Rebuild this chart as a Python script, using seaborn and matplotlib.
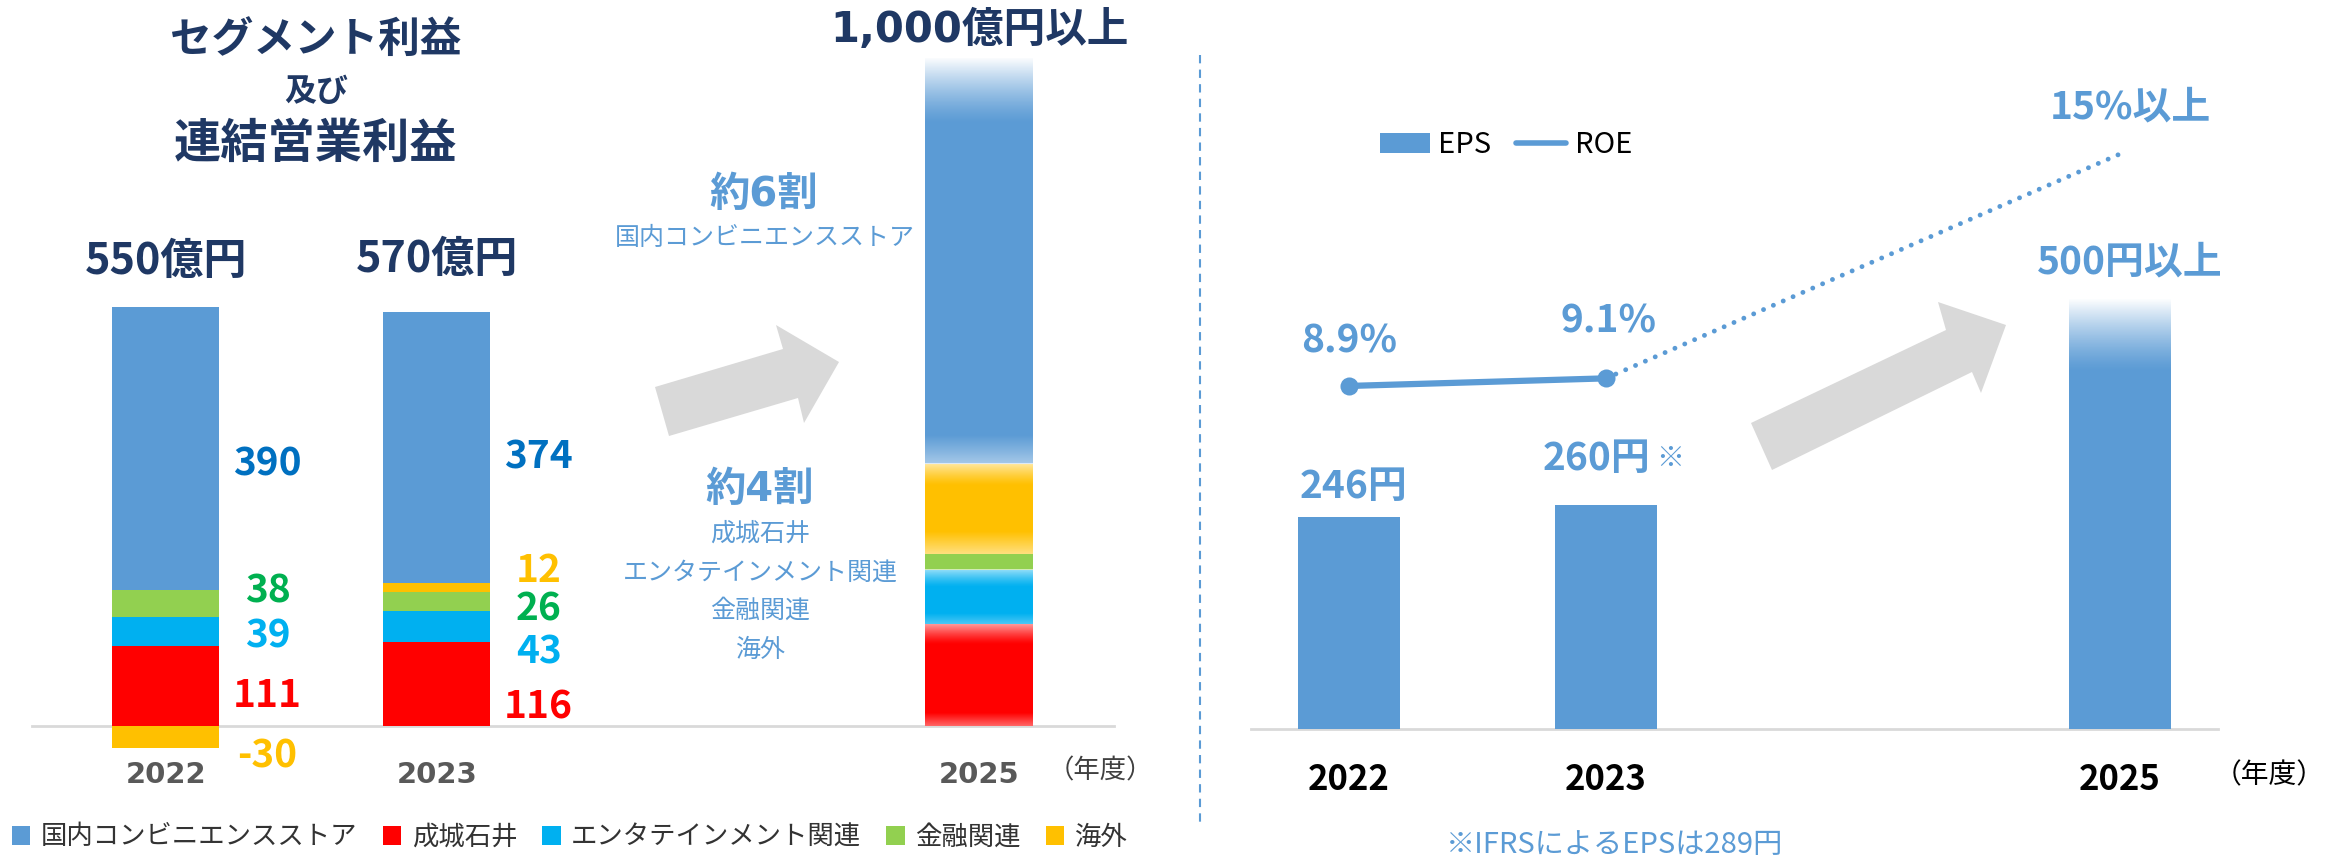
import numpy as np
import matplotlib
matplotlib.use("Agg")
import matplotlib.pyplot as plt
import seaborn as sns
from matplotlib.patches import Polygon, Patch
from matplotlib.lines import Line2D

# ---------------- data ----------------
years = [2022, 2023, 2025]
year_labels = ["2022", "2023", "2025"]
segments = ["国内コンビニエンスストア", "成城石井", "エンタテインメント関連", "金融関連", "海外"]
seg_colors = ["#5B9BD5", "#FF0000", "#00B0F0", "#92D050", "#FFC000"]
seg_label_colors = ["#0070C0", "#FF0000", "#00B0F0", "#00B050", "#FFC000"]
cvs = [390, 374, 560]
seijo = [111, 116, 140]
ent = [39, 43, 75]
fin = [38, 26, 22]
overseas = [-30, 12, 125]
total_labels = ["550億円", "570億円", "1,000億円以上"]
eps = [246, 260, 500]
eps_labels = ["246円", "260円", "500円以上"]
roe = [8.9, 9.1, 15.0]
roe_labels = ["8.9%", "9.1%", "15%以上"]

W, H = 2336, 865
NAVY = "#1F3864"
LBLUE = "#5B9BD5"

sns.set_theme(style="white")
plt.rcParams["font.family"] = ["Noto Sans CJK JP", "DejaVu Sans"]
VER = ["DejaVu Sans", "Noto Sans CJK JP"]

fig = plt.figure(figsize=(W / 100, H / 100), dpi=100)
fx = lambda px: px / W
fy = lambda py: 1 - py / H

# ---------------- left panel: stacked bars ----------------
axL = fig.add_axes([fx(32), 100 / H, 1082 / W, 735 / H])
stack = [(seijo, 1), (ent, 2), (fin, 3), (overseas, 4), (cvs, 0)]
nudges = {1: [-13, -32], 2: [-6, -36], 3: [17, -10], 4: [-26, 24], 0: [-22, -13]}
pos_b = np.zeros(3)
neg_b = np.zeros(3)
patches25 = {}
for vals, ci in stack:
    v = np.array(vals, float)
    bottoms = np.where(v >= 0, pos_b, neg_b)
    bars = axL.bar(years, v, bottom=bottoms, width=0.395, color=seg_colors[ci],
                   linewidth=0, zorder=3)
    patches25[ci] = bars[2]
    for i in range(2):
        yc = bottoms[i] + v[i] / 2 + nudges[ci][i]
        axL.text(years[i] + 0.375, yc, f"{int(v[i])}", ha="center", va="center",
                 fontsize=28, fontweight="bold", color=seg_label_colors[ci])
    pos_b = np.where(v >= 0, pos_b + v, pos_b)
    neg_b = np.where(v < 0, neg_b + v, neg_b)

# totals above bars
tot_off = [46, 53, 28]
for i in range(3):
    fam = VER if i == 2 else ["Noto Sans CJK JP", "DejaVu Sans"]
    fs = 30 if i == 2 else 31
    axL.annotate(total_labels[i], (years[i], pos_b[i]), xytext=(0, tot_off[i]),
                 textcoords="offset pixels", ha="center", va="center",
                 fontsize=fs, fontweight="bold", color=NAVY, family=fam)


def fade(ax, p, top_len, top_a, bot_len, bot_a):
    x0, w, y0, h = p.get_x(), p.get_width(), p.get_y(), p.get_height()
    n = 300
    t = np.linspace(0, 1, n)
    a = np.zeros(n)
    if top_len > 0:
        a = np.maximum(a, top_a * np.clip((t - (1 - top_len)) / top_len, 0, 1) ** 1.3)
    if bot_len > 0:
        a = np.maximum(a, bot_a * np.clip((bot_len - t) / bot_len, 0, 1))
    img = np.ones((n, 1, 4))
    img[:, 0, 3] = a
    ax.imshow(img, extent=[x0, x0 + w, y0, y0 + h], origin="lower", aspect="auto",
              zorder=4, interpolation="bilinear")


fade(axL, patches25[0], 0.16, 0.97, 0.07, 0.45)
fade(axL, patches25[4], 0.25, 0.65, 0.25, 0.5)
fade(axL, patches25[2], 0.33, 0.6, 0.2, 0.3)
fade(axL, patches25[1], 0.2, 0.6, 0.13, 0.4)

axL.set_xlim(2022 - 0.494, 2022 + 3.498)
axL.set_ylim(-53.8, 960)
for s in ["top", "right", "left"]:
    axL.spines[s].set_visible(False)
axL.spines["bottom"].set_position(("data", 0))
axL.spines["bottom"].set_color("#D9D9D9")
axL.spines["bottom"].set_linewidth(2)
axL.spines["bottom"].set_zorder(2)
axL.set_yticks([])
axL.set_xticks(years)
axL.set_xticklabels(year_labels, fontsize=21, fontweight="bold", color="#595959",
                    family=VER)
axL.tick_params(axis="x", length=0, pad=25)
axL.patch.set_alpha(0)

# ---------------- right panel: EPS bars + ROE ----------------
axR = fig.add_axes([fx(1251), 60 / H, 967 / W, 780 / H])
sns.barplot(x=years, y=eps, native_scale=True, color=LBLUE, saturation=1,
            width=0.4, ax=axR, zorder=3, linewidth=0)
big = max(axR.patches, key=lambda p: p.get_height())
fade(axR, big, 0.17, 1.0, 0, 0)
axR.set_xlim(2022 - 0.381, 2022 + 3.381)
axR.set_ylim(-88.2, 816.7)
for s in ["top", "right", "left"]:
    axR.spines[s].set_visible(False)
axR.spines["bottom"].set_position(("data", 0))
axR.spines["bottom"].set_color("#D9D9D9")
axR.spines["bottom"].set_linewidth(2)
axR.set_yticks([])
axR.set_ylabel("")
axR.set_xticks(years)
axR.set_xticklabels(year_labels, fontsize=25, fontweight="bold", color="black")
axR.tick_params(axis="x", length=0, pad=24)
axR.patch.set_alpha(0)

eps_off = [(5, 30), (-9, 46), (10, 36)]
for i in range(3):
    axR.annotate(eps_labels[i], (years[i], eps[i]), xytext=eps_off[i],
                 textcoords="offset pixels", ha="center", va="center",
                 fontsize=28, fontweight="bold", color=LBLUE)
axR.annotate("※", (years[1], eps[1]), xytext=(64, 46), textcoords="offset pixels",
             ha="center", va="center", fontsize=20, color=LBLUE)

ax2 = axR.twinx()
ax2.set_position(axR.get_position())
sns.lineplot(x=years[:2], y=roe[:2], ax=ax2, color=LBLUE, linewidth=4.5,
             marker="o", markersize=13, markeredgewidth=0)
ax2.plot(years[1:], roe[1:], color=LBLUE, linewidth=3.5,
         linestyle=(0, (0.01, 2.2)), dash_capstyle="round")
ax2.set_ylim(-2.117, 18.39)
ax2.set_xlim(axR.get_xlim())
ax2.set_yticks([])
ax2.set_ylabel("")
for s in ax2.spines.values():
    s.set_visible(False)
roe_off = [(0, 45), (3, 57), (10, 47)]
for i in range(3):
    ax2.annotate(roe_labels[i], (years[i], roe[i]), xytext=roe_off[i],
                 textcoords="offset pixels", ha="center", va="center",
                 fontsize=28, fontweight="bold", color=LBLUE)

# ---------------- texts ----------------
fig.text(fx(316), fy(40), "セグメント利益", ha="center", va="center", fontsize=30,
         fontweight="bold", color=NAVY)
fig.text(fx(316), fy(92), "及び", ha="center", va="center", fontsize=23,
         fontweight="bold", color=NAVY)
fig.text(fx(316), fy(144), "連結営業利益", ha="center", va="center", fontsize=34,
         fontweight="bold", color=NAVY)

fig.text(fx(764), fy(195), "約6割", ha="center", va="center", fontsize=29,
         fontweight="bold", color=LBLUE, family=VER)
fig.text(fx(765), fy(238), "国内コンビニエンスストア", ha="center", va="center",
         fontsize=18, color=LBLUE)
fig.text(fx(760), fy(490), "約4割", ha="center", va="center", fontsize=29,
         fontweight="bold", color=LBLUE, family=VER)
for txt, yy in zip(["成城石井", "エンタテインメント関連", "金融関連", "海外"],
                   [534, 573, 611, 650]):
    fig.text(fx(760), fy(yy), txt, ha="center", va="center", fontsize=18, color=LBLUE)

fig.text(fx(1100), fy(771), "（年度）", ha="center", va="center", fontsize=19,
         color="#404040")
fig.text(fx(2269), fy(775), "（年度）", ha="center", va="center", fontsize=20,
         color="black")
fig.text(fx(1615), fy(845), "※IFRSによるEPSは289円", ha="center", va="center",
         fontsize=21, color=LBLUE)

# ---------------- decorations ----------------
def poly(pts):
    fig.add_artist(Polygon([(fx(x), fy(y)) for x, y in pts], closed=True,
                           transform=fig.transFigure, facecolor="#D9D9D9",
                           edgecolor="none", zorder=1))


poly([(655, 387), (783, 349), (776, 325), (839, 362), (804, 423), (798, 398), (669, 436)])
poly([(1751, 423), (1946, 330), (1938, 302), (2006, 325), (1981, 393), (1972, 372),
      (1772, 470)])

fig.add_artist(Line2D([fx(1200)] * 2, [fy(55), fy(823)], transform=fig.transFigure,
                      color=LBLUE, lw=1.5, linestyle=(0, (4, 3))))

# ---------------- legends ----------------
hL = [Patch(facecolor=c, edgecolor="none") for c in seg_colors]
fig.legend(hL, segments, loc="center left", bbox_to_anchor=(fx(12), fy(837)),
           ncol=5, frameon=False, fontsize=19, handlelength=0.7, handleheight=0.7,
           handletextpad=0.4, columnspacing=0.95, borderpad=0, borderaxespad=0,
           labelcolor="#333333")
hR = [Patch(facecolor=LBLUE, edgecolor="none"), Line2D([], [], color=LBLUE, lw=4)]
fig.legend(hR, ["EPS", "ROE"], loc="center left", bbox_to_anchor=(fx(1380), fy(145)),
           ncol=2, frameon=False, fontsize=21, handlelength=1.7, handleheight=0.7,
           handletextpad=0.3, columnspacing=0.85, borderpad=0, borderaxespad=0,
           labelcolor="black")

fig.savefig("out.png", dpi=100)
